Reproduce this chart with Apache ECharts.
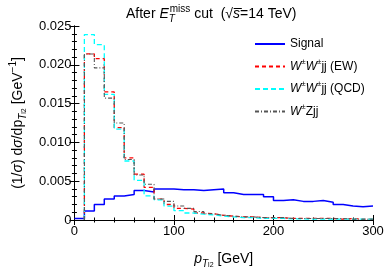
<!DOCTYPE html>
<html><head><meta charset="utf-8">
<script src="https://cdn.jsdelivr.net/npm/echarts@6/dist/echarts.min.js"></script>
<style>html,body{margin:0;padding:0;background:#fff}#c{width:387px;height:274px}</style>
</head><body><div id="c"></div>
<script>
// bin left edges (GeV), bin width 10
const signalEdges = [0,10,20,30,40,50,60,70,80,90,100,110,120,130,140,150,160,170,180,190,200,210,220,230,240,250,260,270,280,290];
const bkgEdges = [10,20,30,40,50,60,70,80,90,100,110,120,130,140,150,160,170,180,190,200,210,220,230,240,250,260,270,280,290];
const xEnd = 300;
const signal = [0.0002,0.00115,0.0020,0.0027,0.0031,0.0033,0.0038,0.0036,0.0040,0.0040,0.0039,0.0039,0.0038,0.0039,0.0040,0.0035,0.0033,0.0033,0.0033,0.0030,0.0025,0.0026,0.0024,0.0024,0.0025,0.0023,0.0020,0.0018,0.0017,0.0018];
const wwEW = [0.0214,0.0208,0.0165,0.0119,0.0080,0.0059,0.0042,0.0027,0.0020,0.0015,0.0014,0.0009,0.0008,0.0006,0.0005,0.0004,0.0004,0.0003,0.0003,0.0003,0.0002,0.0002,0.0002,0.0002,0.0002,0.0001,0.0002,0.0001,0.0001];
const wwQCD = [0.0239,0.0226,0.0162,0.0117,0.0076,0.0051,0.0031,0.0026,0.0018,0.0012,0.0009,0.00075,0.00066,0.0005,0.0004,0.0003,0.0003,0.0002,0.0002,0.0002,0.00015,0.00015,0.0001,0.0001,0.0001,0.0001,0.0001,0.0001,0.0001];
const wzjj = [0.0214,0.0196,0.0157,0.0125,0.0078,0.0058,0.0046,0.0027,0.0024,0.0018,0.0015,0.0011,0.0008,0.0006,0.0005,0.0004,0.0004,0.0003,0.0003,0.0003,0.0002,0.0002,0.0002,0.0002,0.0002,0.0002,0.0001,0.0001,0.0001];
const xTicks = [0,100,200,300];
const yTicks = ['0','0.005','0.010','0.015','0.020','0.025'];
const seriesNames = ['Signal','EW','QCD','WZ'];

function hist(edges, vals, startZero){
  const d = [];
  if (startZero) d.push([edges[0], 0]);
  edges.forEach((e,i)=>d.push([e, vals[i]]));
  d.push([xEnd, vals[vals.length-1]]);
  return d;
}
const FONT = 'Liberation Sans, Arial, sans-serif';
const chart = echarts.init(document.getElementById('c'), null, {renderer:'canvas'});
const tickCommon = {
  axisLine:{show:true,lineStyle:{color:'#000',width:1}},
  axisTick:{show:true,inside:true,length:5,lineStyle:{color:'#000',width:1}},
  minorTick:{show:true,splitNumber:5,length:2.5,lineStyle:{color:'#000',width:1}},
  splitLine:{show:false}
};
function richSet(base){
  const s = Math.round(base*0.68), ss = Math.round(base*0.5), lh = base+6;
  const c = {color:'#000',fontFamily:FONT,fontWeight:'normal'};
  return {
    n:Object.assign({fontSize:base,lineHeight:lh},c),
    i:Object.assign({fontSize:base,lineHeight:lh,fontStyle:'italic'},c),
    sub:Object.assign({fontSize:s,lineHeight:s,verticalAlign:'bottom'},c),
    subi:Object.assign({fontSize:s,lineHeight:s,verticalAlign:'bottom',fontStyle:'italic'},c),
    subT:Object.assign({fontSize:s,lineHeight:s,verticalAlign:'bottom',fontStyle:'italic',width:1},c),
    subsub:Object.assign({fontSize:ss,lineHeight:ss,verticalAlign:'bottom'},c),
    sup:Object.assign({fontSize:s,lineHeight:s,verticalAlign:'top'},c)
  };
}
const legendLabels = {
  Signal:'{n|Signal}',
  EW:'{i|W}{sup|±}{i|W}{sup|±}{n|jj (EW)}',
  QCD:'{i|W}{sup|±}{i|W}{sup|±}{n|jj (QCD)}',
  WZ:'{i|W}{sup|±}{n|Zjj}'
};
chart.setOption({
  animation:false,
  backgroundColor:'#fff',
  title:{
    text:'{n|After }{i|E}{subT|T}{sup|miss}{n| cut  (√}{i|s̅}{n|=14 TeV)}',
    left:121, top:-1,
    textStyle:{fontWeight:'normal',rich:richSet(14)}
  },
  legend:{
    orient:'vertical', left:249, top:33, itemWidth:30, itemHeight:12, itemGap:7.5,
    data:seriesNames,
    itemStyle:{opacity:0},
    formatter:(n)=>legendLabels[n],
    textStyle:{rich:richSet(12)}
  },
  grid:{left:64,right:14,top:26,bottom:46},
  xAxis:[
    Object.assign({type:'value',min:0,max:300,interval:100,position:'bottom',
      axisLabel:{color:'#000',fontSize:13,fontFamily:FONT,margin:5,
        formatter:(v)=>xTicks.includes(v)?String(v):''},
      name:'{i|p}{subi|T}{subsub|l2}{n| [GeV]}', nameLocation:'middle', nameGap:29,
      nameTextStyle:{rich:richSet(14)}
    }, tickCommon),
    Object.assign({type:'value',min:0,max:300,interval:100,position:'top',axisLabel:{show:false}}, tickCommon)
  ],
  yAxis:[
    Object.assign({type:'value',min:0,max:0.025,interval:0.005,position:'left',
      axisLabel:{color:'#000',fontSize:13,fontFamily:FONT,margin:3,
        formatter:(v)=>yTicks[Math.round(v/0.005)]},
      name:'{n|(1/}{i|σ}{n|) d}{i|σ}{n|/dp}{subi|T}{subsub|l2}{n| [GeV}{sup|−1}{n|]}', nameLocation:'middle', nameGap:37, nameRotate:90,
      nameTextStyle:{rich:richSet(14)}
    }, tickCommon),
    Object.assign({type:'value',min:0,max:0.025,interval:0.005,position:'right',axisLabel:{show:false}}, tickCommon)
  ],
  series:[
    {name:'Signal',type:'line',step:'end',symbol:'none',data:hist(signalEdges,signal,false),
      lineStyle:{color:'#0000ff',width:1.5},itemStyle:{color:'#0000ff'}},
    {name:'EW',type:'line',step:'end',symbol:'none',data:hist(bkgEdges,wwEW,true),
      lineStyle:{color:'#ff0000',width:1.3,type:[4,3]},itemStyle:{color:'#ff0000'}},
    {name:'QCD',type:'line',step:'end',symbol:'none',data:hist(bkgEdges,wwQCD,true),
      lineStyle:{color:'#00ffff',width:1.3,type:[5,3]},itemStyle:{color:'#00ffff'}},
    {name:'WZ',type:'line',step:'end',symbol:'none',data:hist(bkgEdges,wzjj,true),
      lineStyle:{color:'#555555',width:1.1,type:[4,2,1,2]},itemStyle:{color:'#555555'}}
  ]
});
</script></body></html>
